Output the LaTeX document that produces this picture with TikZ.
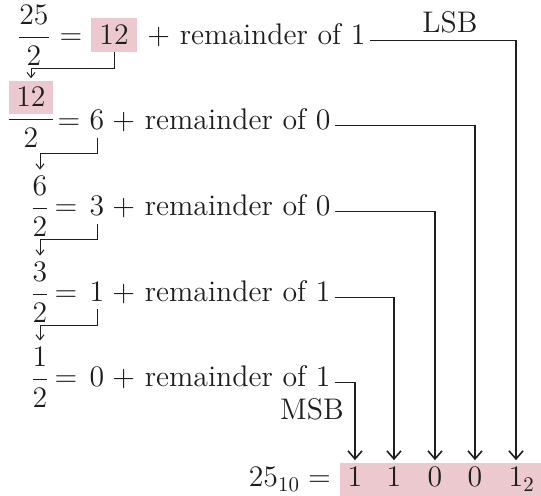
\documentclass[tikz,border=0pt]{standalone}
\usepackage{fix-cm}
\usepackage{amsmath}
\usetikzlibrary{arrows.meta}
\definecolor{binpink}{RGB}{236,201,206}
\definecolor{inkgray}{RGB}{30,30,30}
\setlength{\fboxsep}{3.5pt}
\tikzset{
  txt/.style={anchor=base,text=inkgray},
  qbox/.style={anchor=base,fill=binpink,text=inkgray,inner xsep=4pt,inner ysep=3.4pt},
  rem/.style={anchor=base west,inner xsep=2pt,text=inkgray},
  carry/.style={draw=inkgray,line width=0.5pt,-{Straight Barb[length=2.5pt,width=4pt]}},
  bitline/.style={draw=inkgray,line width=0.8pt,-{Straight Barb[length=4pt,width=7pt]}}
}
\begin{document}
\begin{tikzpicture}[x=0.5pt,y=-0.5pt,font=\fontsize{14.9}{18}\selectfont]
  \useasboundingbox (0,0) rectangle (541,496);
  % row 1
  \node[txt] (f1) at (34,45) {$\dfrac{25}{2}$};
  \node[txt] (e1) at (71,45) {$=$};
  \node[qbox] (q1) at (114,45) {12};
  \node[rem] (r1) at (143,45) {$+$ remainder of 1};
  % row 2
  \node[txt,inner sep=1pt] (f2) at (31,127) {$\dfrac{\colorbox{binpink}{$12$}}{2}$};
  \node[txt] (e2) at (69,130) {$=$};
  \node[txt] (q2) at (97,130) {6};
  \node[rem] (r2) at (108,130) {$+$ remainder of 0};
  % row 3
  \node[txt] (f3) at (40,216) {$\dfrac{6}{2}$};
  \node[txt] (e3) at (66,216) {$=$};
  \node[txt] (q3) at (97,216) {3};
  \node[rem] (r3) at (108,216) {$+$ remainder of 0};
  % row 4
  \node[txt] (f4) at (40,302) {$\dfrac{3}{2}$};
  \node[txt] (e4) at (66,302) {$=$};
  \node[txt] (q4) at (97,302) {1};
  \node[rem] (r4) at (108,302) {$+$ remainder of 1};
  % row 5
  \node[txt] (f5) at (40,387) {$\dfrac{1}{2}$};
  \node[txt] (e5) at (66,387) {$=$};
  \node[txt] (q5) at (97,387) {0};
  \node[rem] (r5) at (108,387) {$+$ remainder of 1};

  % result
  \fill[binpink] (340,463) rectangle (541,496);
  \node[txt,anchor=base east] (dec) at (338,487) {$25_{10} =$};
  \node[txt] (b1) at (355,487) {1};
  \node[txt] (b2) at (394,487) {1};
  \node[txt] (b3) at (435,487) {0};
  \node[txt] (b4) at (475,487) {0};
  \node[txt] (b5) at (516,487) {1\rlap{$_2$}};
  \node[txt] (lsb) at (450,33) {LSB};
  \node[txt] (msb) at (312,420) {MSB};

  % quotient carried down
  \draw[carry] (q1.south) -- ++(0,16) -| (f2.north);
  \draw[carry] (q2.south) -- ++(0,16) -| (f3.north);
  \draw[carry] (q3.south) -- ++(0,16) -| (f4.north);
  \draw[carry] (q4.south) -- ++(0,16) -| (f5.north);

  % remainders to bits
  \draw[bitline] (r1.mid east) -| (b5.north);
  \draw[bitline] (r2.mid east) -| (b4.north);
  \draw[bitline] (r3.mid east) -| (b3.north);
  \draw[bitline] (r4.mid east) -| (b2.north);
  \draw[bitline] (r5.mid east) -| (b1.north);
\end{tikzpicture}
\end{document}
